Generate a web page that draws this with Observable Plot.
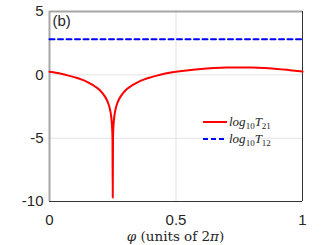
<!DOCTYPE html>
<html>
<head>
<meta charset="utf-8">
<script src="https://cdn.jsdelivr.net/npm/d3@7"></script>
<script src="https://cdn.jsdelivr.net/npm/@observablehq/plot@0.6"></script>
<style>
  html, body { margin: 0; padding: 0; background: #fff; }
  #wrap { position: relative; width: 327px; height: 245px; }
  #overlay { position: absolute; left: 0; top: 0; pointer-events: none; }
</style>
</head>
<body>
<div id="wrap"></div>
<script>
// phase φ (units of 2π) and log10 T21 values
const phi = [0,0.025,0.05,0.075,0.1,0.125,0.15,0.165,0.18,0.19,0.2,0.21,0.22,0.23,0.235,0.24,0.245,0.248,0.249,
  0.25,
  0.251,0.252,0.255,0.26,0.265,0.27,0.28,0.29,0.3,0.31,0.32,0.335,0.35,0.375,0.4,0.425,0.45,0.475,0.5,
  0.55,0.6,0.65,0.7,0.75,0.8,0.85,0.9,0.95,1];
const logT21 = [0.24,0.16,0.06,-0.06,-0.20,-0.36,-0.57,-0.73,-0.92,-1.06,-1.24,-1.46,-1.74,-2.14,-2.42,-2.82,-3.50,-4.40,-5.08,
  -9.7,
  -5.08,-4.40,-3.50,-2.82,-2.42,-2.14,-1.74,-1.46,-1.24,-1.06,-0.92,-0.73,-0.57,-0.36,-0.20,-0.06,0.06,0.16,0.24,
  0.37,0.47,0.53,0.57,0.58,0.57,0.53,0.47,0.37,0.26];
// log10 T12 is constant
const phi12 = [0, 1];
const logT12 = [2.8, 2.8];

const xTicks = [0, 0.5, 1];
const yTicks = [-10, -5, 0, 5];
const xTickLabels = ["0", "0.5", "1"];
const yTickLabels = ["-10", "-5", "0", "5"];
const panelLabel = "(b)";

const t21 = phi.map((p, i) => ({phi: p, v: logT21[i]}));
const t12 = phi12.map((p, i) => ({phi: p, v: logT12[i]}));

const chart = Plot.plot({
  width: 327,
  height: 245,
  marginLeft: 49,
  marginRight: 25,
  marginTop: 11,
  marginBottom: 44,
  x: {domain: [0, 1]},
  y: {domain: [-10, 5]},
  style: {fontFamily: "'Liberation Sans', Arial, sans-serif", fontSize: "15px", color: "#262626", background: "#fff"},
  marks: [
    Plot.gridX([0.5], {stroke: "#e3e3e3", strokeOpacity: 1, strokeWidth: 1}),
    Plot.gridY([0, -5], {stroke: "#e3e3e3", strokeOpacity: 1, strokeWidth: 1}),
    Plot.axisX({ticks: xTicks, tickFormat: d => xTickLabels[xTicks.indexOf(d)], tickSize: 0, tickPadding: 13, label: null}),
    Plot.axisY({ticks: yTicks, tickFormat: d => yTickLabels[yTicks.indexOf(d)], tickSize: 0, tickPadding: 6, label: null}),
    Plot.ruleY([-10], {stroke: "#333", strokeWidth: 1}),
    Plot.ruleX([1], {stroke: "#333", strokeWidth: 1}),
    Plot.ruleX([0], {stroke: "#a6a6a6", strokeWidth: 2}),
    Plot.ruleY([5], {stroke: "#a6a6a6", strokeWidth: 2}),
    Plot.line(t12, {x: "phi", y: "v", stroke: "#0000ff", strokeWidth: 2, strokeDasharray: "5,3.5"}),
    Plot.line(t21, {x: "phi", y: "v", stroke: "#ff0000", strokeWidth: 2, curve: "monotone-x"}),
    Plot.text([panelLabel], {frameAnchor: "top-left", dx: 3, dy: 4, fontSize: 15, fill: "#262626"})
  ]
});

const wrap = document.getElementById("wrap");
wrap.appendChild(chart);

// legend and mixed-style x label as an overlay
const ns = "http://www.w3.org/2000/svg";
const ov = document.createElementNS(ns, "svg");
ov.setAttribute("id", "overlay");
ov.setAttribute("width", 327);
ov.setAttribute("height", 245);
ov.innerHTML = `
  <g font-family="'Liberation Serif', 'Times New Roman', serif" fill="#262626">
    <line x1="203" x2="227" y1="122" y2="122" stroke="#ff0000" stroke-width="2"/>
    <text x="229" y="126" font-size="13"><tspan font-style="italic">log</tspan><tspan font-size="9" dy="3">10</tspan><tspan font-style="italic" dy="-3">T</tspan><tspan font-size="9" dy="3">21</tspan></text>
    <line x1="203" x2="227" y1="139" y2="139" stroke="#0000ff" stroke-width="2" stroke-dasharray="5,3"/>
    <text x="229" y="143" font-size="13"><tspan font-style="italic">log</tspan><tspan font-size="9" dy="3">10</tspan><tspan font-style="italic" dy="-3">T</tspan><tspan font-size="9" dy="3">12</tspan></text>
  </g>
  <text x="175.5" y="241" font-family="'DejaVu Serif', serif" font-size="13.5" fill="#262626" text-anchor="middle"><tspan font-style="italic">φ</tspan> (units of 2<tspan font-style="italic">π</tspan>)</text>`;
wrap.appendChild(ov);
</script>
</body>
</html>
